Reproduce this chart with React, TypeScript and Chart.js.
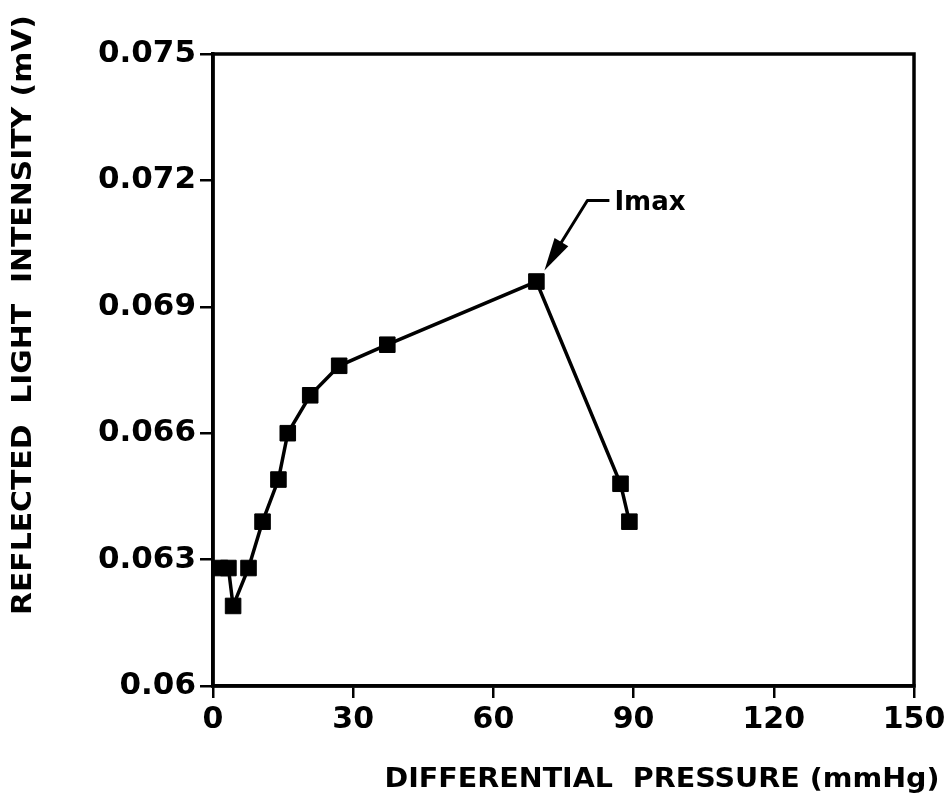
import React, { useEffect, useRef } from "react";
import { Chart, registerables } from "chart.js";

Chart.register(...registerables);

const pressure = [1.5, 3.3, 4.3, 7.6, 10.6, 14, 16, 20.8, 27, 37.3, 69.2, 87.2, 89.1];
const intensity = [0.0628, 0.0628, 0.0619, 0.0628, 0.0639, 0.0649, 0.066, 0.0669, 0.0676, 0.0681, 0.0696, 0.0648, 0.0639];
const xTicks = [0, 30, 60, 90, 120, 150];
const yTicks = [0.06, 0.063, 0.066, 0.069, 0.072, 0.075];
const xTitle = "DIFFERENTIAL  PRESSURE (mmHg)";
const yTitle = "REFLECTED  LIGHT  INTENSITY (mV)";
const annotationLabel = "Imax";
const annotationIndex = 10;

const FONT = "'DejaVu Sans', 'Liberation Sans', sans-serif";

function fitText(ctx: CanvasRenderingContext2D, text: string, cx: number, cy: number, width: number, rot: number, font: string) {
  ctx.save();
  ctx.font = font;
  const w = ctx.measureText(text).width;
  ctx.translate(cx, cy);
  ctx.rotate(rot);
  ctx.scale(width / w, 1);
  ctx.textAlign = "center";
  ctx.textBaseline = "middle";
  ctx.fillStyle = "#000";
  ctx.fillText(text, 0, 0);
  ctx.restore();
}

const decor = {
  id: "decor",
  afterDatasetsDraw(chart: any) {
    const ctx = chart.ctx as CanvasRenderingContext2D;
    const a = chart.chartArea;
    ctx.save();
    ctx.strokeStyle = "#000";
    ctx.lineWidth = 3.5;
    ctx.strokeRect(a.left, a.top, a.right - a.left, a.bottom - a.top);
    // annotation
    const xs = chart.scales.x;
    const ys = chart.scales.y;
    const px = xs.getPixelForValue(pressure[annotationIndex]);
    const py = ys.getPixelForValue(intensity[annotationIndex]);
    const tip = [px + 8, py - 11];
    const base = [px + 23, py - 36];
    const bend = [px + 51, py - 81];
    const end = [px + 73, py - 81];
    ctx.lineWidth = 3;
    ctx.lineJoin = "round";
    ctx.beginPath();
    ctx.moveTo(end[0], end[1]);
    ctx.lineTo(bend[0], bend[1]);
    ctx.lineTo(base[0], base[1]);
    ctx.stroke();
    // arrowhead
    const dx = tip[0] - base[0];
    const dy = tip[1] - base[1];
    const len = Math.hypot(dx, dy);
    const nx = -dy / len;
    const ny = dx / len;
    const hw = 8;
    const back = [base[0] - (dx / len) * 4, base[1] - (dy / len) * 4];
    ctx.beginPath();
    ctx.moveTo(tip[0], tip[1]);
    ctx.lineTo(back[0] + nx * hw, back[1] + ny * hw);
    ctx.lineTo(back[0] - nx * hw, back[1] - ny * hw);
    ctx.closePath();
    ctx.fillStyle = "#000";
    ctx.fill();
    ctx.font = `bold 26px ${FONT}`;
    ctx.textAlign = "left";
    ctx.textBaseline = "middle";
    ctx.fillText(annotationLabel, end[0] + 5, end[1] + 3);
    ctx.restore();
    // axis titles
    fitText(ctx, xTitle, 662, 780, 555, 0, `bold 27px ${FONT}`);
    fitText(ctx, yTitle, 24, 315, 600, -Math.PI / 2, `bold 27px ${FONT}`);
  },
};

export default function App() {
  const ref = useRef<HTMLCanvasElement>(null);
  useEffect(() => {
    if (!ref.current) return;
    const chart = new Chart(ref.current, {
      type: "line",
      data: {
        datasets: [
          {
            data: pressure.map((x, i) => ({ x, y: intensity[i] })),
            borderColor: "#000",
            backgroundColor: "#000",
            borderWidth: 3.5,
            pointStyle: "rect",
            pointRadius: 11,
            pointBorderWidth: 1,
            pointBackgroundColor: "#000",
            pointBorderColor: "#000",
            tension: 0,
          },
        ],
      },
      options: {
        animation: false,
        responsive: false,
        maintainAspectRatio: false,
        layout: { padding: { left: 0, top: 54, right: 37, bottom: 0 } },
        plugins: { legend: { display: false }, tooltip: { enabled: false } },
        scales: {
          x: {
            type: "linear",
            min: 0,
            max: 150,
            afterBuildTicks: (s: any) => {
              s.ticks = xTicks.map((v) => ({ value: v }));
            },
            afterFit: (s: any) => {
              s.height = 121;
            },
            ticks: {
              color: "#000",
              font: { family: FONT, size: 30, weight: "bold" },
              padding: 4,
              maxRotation: 0,
              callback: (v: any) => String(v),
            },
            grid: { display: true, drawOnChartArea: false, drawTicks: true, tickLength: 12, color: "#000", lineWidth: 2.5 },
            border: { display: true, color: "#000", width: 3.5 },
          },
          y: {
            type: "linear",
            min: 0.06,
            max: 0.075,
            afterBuildTicks: (s: any) => {
              s.ticks = yTicks.map((v) => ({ value: v }));
            },
            afterFit: (s: any) => {
              s.width = 213;
            },
            ticks: {
              color: "#000",
              font: { family: FONT, size: 31, weight: "bold" },
              padding: 4,
              callback: (v: any) => String(Number(Number(v).toFixed(3))),
            },
            grid: { display: true, drawOnChartArea: false, drawTicks: true, tickLength: 13, color: "#000", lineWidth: 2.5 },
            border: { display: true, color: "#000", width: 3.5 },
          },
        },
      },
      plugins: [decor],
    });
    return () => chart.destroy();
  }, []);
  return (
    <div style={{ position: "fixed", left: 0, top: 0, width: 951, height: 807, background: "#fff" }}>
      <canvas ref={ref} width={951} height={807} style={{ width: 951, height: 807 }} />
    </div>
  );
}
